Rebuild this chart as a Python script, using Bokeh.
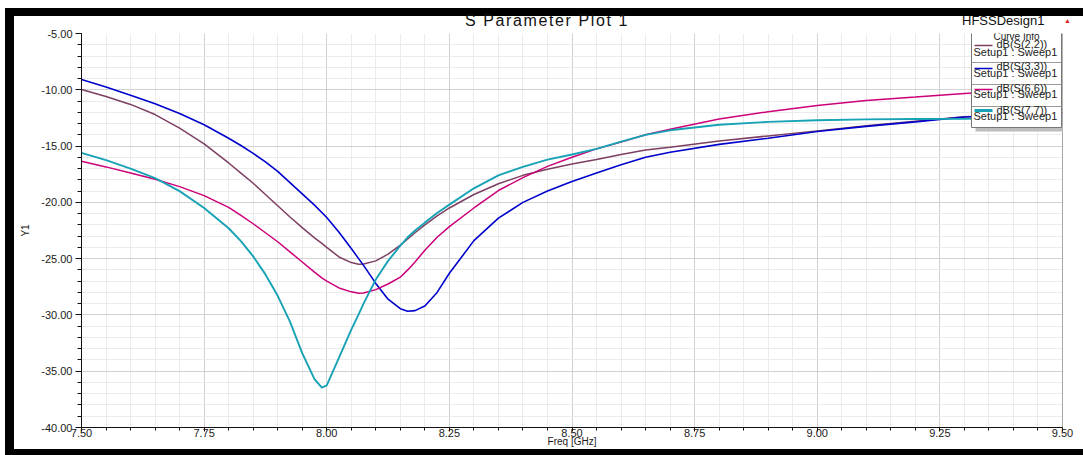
from bokeh.plotting import figure
from bokeh.layouts import column, row
from bokeh.models import FixedTicker, NumeralTickFormatter, Label, BoxAnnotation, Span, Div
from bokeh.embed import file_html
from bokeh.resources import INLINE

# ---------------- data ----------------
freq = [7.50, 7.55, 7.60, 7.65, 7.70, 7.75, 7.80, 7.825, 7.85, 7.875, 7.90, 7.925, 7.95, 7.975, 7.99,
        8.00, 8.025, 8.05, 8.065, 8.075, 8.10, 8.125, 8.15, 8.165, 8.18, 8.20, 8.225,
        8.25, 8.30, 8.35, 8.40, 8.45, 8.50, 8.55, 8.60, 8.65, 8.70, 8.80, 8.90, 9.00,
        9.10, 9.20, 9.30, 9.40, 9.50]

s22 = [-9.97, -10.6, -11.3, -12.2, -13.4, -14.8, -16.5, -17.4, -18.3, -19.3, -20.3, -21.3, -22.25, -23.15, -23.65,
       -24.0, -24.85, -25.35, -25.5, -25.47, -25.2, -24.6, -23.8, -23.25, -22.7, -22.0, -21.2,
       -20.5, -19.3, -18.35, -17.6, -17.05, -16.6, -16.2, -15.75, -15.35, -15.1, -14.55, -14.1, -13.65,
       -13.2, -12.8, -12.4, -12.25, -12.1]

s33 = [-9.08, -9.75, -10.48, -11.25, -12.1, -13.1, -14.3, -14.95, -15.65, -16.4, -17.25, -18.25, -19.25, -20.25, -20.9,
       -21.35, -22.65, -24.1, -25.0, -25.6, -27.2, -28.6, -29.45, -29.68, -29.62, -29.2, -28.0,
       -26.3, -23.4, -21.4, -20.0, -19.0, -18.15, -17.4, -16.65, -16.0, -15.55, -14.85, -14.3, -13.7,
       -13.25, -12.85, -12.42, -12.25, -12.1]

s66 = [-16.35, -16.85, -17.4, -17.95, -18.6, -19.4, -20.45, -21.15, -21.9, -22.7, -23.5, -24.4, -25.3, -26.2, -26.7,
       -27.0, -27.6, -27.95, -28.08, -28.05, -27.75, -27.25, -26.65, -26.0, -25.3, -24.25, -23.1,
       -22.15, -20.5, -18.95, -17.8, -16.8, -16.0, -15.25, -14.65, -14.0, -13.5, -12.6, -11.95, -11.4,
       -10.95, -10.65, -10.32, -10.1, -9.94]

s77 = [-15.6, -16.25, -17.0, -17.85, -19.0, -20.5, -22.3, -23.45, -24.8, -26.4, -28.3, -30.6, -33.4, -35.7, -36.45,
       -36.25, -33.8, -31.3, -29.95, -29.0, -26.85, -25.2, -23.85, -23.1, -22.5, -21.8, -20.95,
       -20.2, -18.75, -17.6, -16.85, -16.2, -15.75, -15.25, -14.6, -14.0, -13.6, -13.1, -12.85, -12.7,
       -12.63, -12.6, -12.58, -12.54, -12.5]

series_names = ["dB(S(2,2))", "dB(S(3,3))", "dB(S(6,6))", "dB(S(7,7))"]
series_values = [s22, s33, s66, s77]
series_colors = ["#7d3f62", "#0000cc", "#cc0078", "#17a2b5"]
series_widths = [1.5, 1.6, 1.5, 1.9]
sweep_label = "Setup1 : Sweep1"
plot_title = "S Parameter Plot 1"
design_name = "HFSSDesign1"

x_major = [7.50, 7.75, 8.00, 8.25, 8.50, 8.75, 9.00, 9.25, 9.50]
x_minor = [round(7.5 + 0.05 * i, 2) for i in range(41)]
y_major = [-40, -35, -30, -25, -20, -15, -10, -5]
y_minor = list(range(-40, -4))

FONT = "Liberation Sans"

# ---------------- figure ----------------
PW, PH = 1069, 421
p = figure(width=PW, height=PH, x_range=(7.5, 9.5), y_range=(-40, -5),
           output_backend="svg", toolbar_location=None,
           min_border_left=67, min_border_right=21, min_border_top=5, min_border_bottom=22,
           background_fill_color="white", border_fill_color="white", margin=0)
p.outline_line_color = None

# page-pixel -> data helpers for in-frame decorations (frame: x 81..1062, y 33..427 on the page)
def X(px):
    return 7.5 + (px - 81) / 490.5

def Y(py):
    return -5 - (py - 33) / (394 / 35)

for ax in (p.xaxis[0], p.yaxis[0]):
    ax.major_label_text_font = FONT
    ax.major_label_text_font_size = "11px"
    ax.major_label_text_color = "#1a1a1a"
    ax.axis_line_color = "#111111"
    ax.major_tick_line_color = "#111111"
    ax.minor_tick_line_color = "#111111"
    ax.major_tick_in = 0
    ax.minor_tick_in = 0
    ax.formatter = NumeralTickFormatter(format="0.00")
    ax.axis_label_text_font = FONT
    ax.axis_label_text_font_size = "10px"
    ax.axis_label_text_font_style = "normal"
    ax.axis_label_text_color = "#1a1a1a"

p.xaxis.ticker = FixedTicker(ticks=x_major, minor_ticks=x_minor)
p.yaxis.ticker = FixedTicker(ticks=y_major, minor_ticks=y_minor)
p.xaxis.major_tick_out = 4
p.xaxis.minor_tick_out = 3
p.xaxis.major_label_standoff = -3
p.xaxis.axis_label = "Freq [GHz]"
p.xaxis.axis_label_standoff = -4
p.yaxis.major_tick_out = 6
p.yaxis.minor_tick_out = 4
p.yaxis.major_label_standoff = 3
p.yaxis.axis_label = "Y1"
p.yaxis.axis_label_standoff = 7

p.xgrid.ticker = FixedTicker(ticks=x_major, minor_ticks=x_minor)
p.ygrid.ticker = FixedTicker(ticks=y_major, minor_ticks=y_minor)
for g in (p.xgrid[0], p.ygrid[0]):
    g.grid_line_color = "#d2d2d2"
    g.grid_line_width = 1
    g.minor_grid_line_color = "#ebebeb"
    g.minor_grid_line_width = 1

p.add_layout(Span(location=9.5, dimension="height", line_color="#555555", line_width=1))

for name, vals, col, lw in zip(series_names, series_values, series_colors, series_widths):
    p.line(freq, vals, line_color=col, line_width=lw)

# legend box ("Curve Info")
p.add_layout(BoxAnnotation(left=X(975), right=X(1070), top=Y(35), bottom=Y(131),
                           fill_color="#bdbdbd", fill_alpha=1, line_color=None))
p.add_layout(BoxAnnotation(left=X(971), right=X(1061), top=Y(31), bottom=Y(127),
                           fill_color="white", fill_alpha=1, line_color="#777777", line_alpha=1, line_width=1))
p.add_layout(Label(x=X(1016), y=Y(36), text="Curve Info", text_align="center", text_baseline="middle",
                   text_font=FONT, text_font_size="10px", text_color="#222222"))
for sep in (62, 84, 106):
    p.add_layout(BoxAnnotation(left=X(971), right=X(1061), top=Y(sep - 0.5), bottom=Y(sep + 0.5),
                               fill_color="#9a9a9a", fill_alpha=1, line_color=None))
name_y = [43, 65.5, 87.5, 109]
setup_y = [51, 72.5, 93.5, 115]
line_y = [45, 68, 89, 110]
for k, (name, col) in enumerate(zip(series_names, series_colors)):
    th = 3 if k == 3 else 1.4
    p.add_layout(BoxAnnotation(left=X(974), right=X(992), top=Y(line_y[k] - th / 2), bottom=Y(line_y[k] + th / 2),
                               fill_color=col, fill_alpha=1, line_color=None))
    p.add_layout(Label(x=X(996), y=Y(name_y[k]), text=name, text_align="left", text_baseline="middle",
                       text_font=FONT, text_font_size="11px", text_color="#222222"))
    p.add_layout(Label(x=X(973), y=Y(setup_y[k]), text=sweep_label, text_align="left", text_baseline="middle",
                       text_font=FONT, text_font_size="11px", text_color="#222222"))

# ---------------- surrounding page pieces (title row and black screenshot frame) ----------------
FF = "font-family:'Liberation Sans',Arial,sans-serif;"
header_html = (
    '<div style="position:relative;width:1083px;height:28px;' + FF + '">'
    '<div style="position:absolute;left:5px;top:8px;width:1078px;height:8px;background:#000;"></div>'
    '<div style="position:absolute;left:5px;top:16px;width:9px;height:12px;background:#000;"></div>'
    '<div style="position:absolute;left:397px;top:12px;width:300px;text-align:center;font-size:16px;'
    'line-height:18px;color:#111;white-space:nowrap;letter-spacing:1.6px;">' + plot_title + '</div>'
    '<div style="position:absolute;left:962px;top:14px;font-size:13px;line-height:14px;color:#111;'
    'white-space:nowrap;">' + design_name + '</div>'
    '<div style="position:absolute;left:1064px;top:16px;font-size:7px;line-height:9px;color:#dd2222;">&#9650;</div>'
    '</div>'
)
header = Div(text=header_html, width=1083, height=28, margin=0)
left_band = Div(text="", width=9, height=421, margin=(0, 0, 0, 5), styles={"background-color": "black"})
bottom_band = Div(text="", width=1078, height=6, margin=(0, 0, 0, 5), styles={"background-color": "black"})

layout = column(header, row(left_band, p, margin=0), bottom_band, margin=0)

open("out.html", "w").write(file_html(layout, INLINE))
